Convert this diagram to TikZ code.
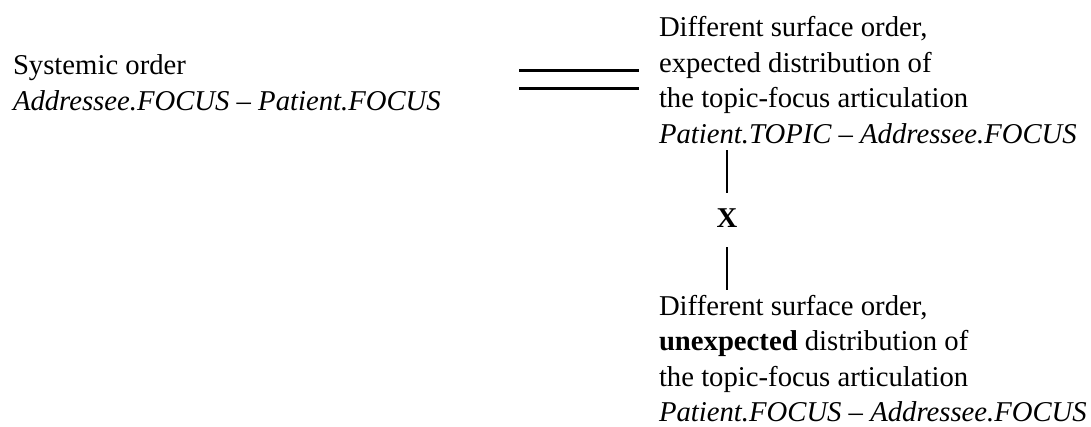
\documentclass[tikz,border=0pt]{standalone}
\usepackage{fontspec}
\setmainfont{Liberation Serif}
\begin{document}
\begin{tikzpicture}[x=1pt,y=-1pt,
  txt/.style={anchor=north west,inner sep=0pt,outer sep=0pt,align=left,
    font=\fontsize{28.7}{35.4}\selectfont},
  rule/.style={line width=2.6pt}]
\useasboundingbox (0,0) rectangle (1091,426);
\node[txt] (sys) at (13,50.15) {\strut Systemic order\\ \textit{Addressee.FOCUS -- Patient.FOCUS}};
\node[txt] (exp) at (659,12.15) {\strut Different surface order,\\ expected distribution of\\ the topic-focus articulation\\ \textit{Patient.TOPIC -- Addressee.FOCUS}};
\node[txt] (unexp) at (659,290.5) {\strut Different surface order,\\ \textbf{unexpected} distribution of\\ the topic-focus articulation\\ \textit{Patient.FOCUS -- Addressee.FOCUS}};
\node[inner sep=0pt,font=\fontsize{28.7}{35.4}\selectfont\bfseries] (x) at (727,218) {X};
\coordinate (h1a) at (519,70.7);
\coordinate (h1b) at (639,70.7);
\coordinate (h2a) at (519,88.7);
\coordinate (h2b) at (639,88.7);
\coordinate (v1a) at (727,150);
\coordinate (v1b) at (727,193);
\coordinate (v2a) at (727,247);
\coordinate (v2b) at (727,290);
\draw[rule] (h1a) -- (h1b);
\draw[rule] (h2a) -- (h2b);
\draw[rule] (v1a) -- (v1b);
\draw[rule] (v2a) -- (v2b);
\end{tikzpicture}
\end{document}
